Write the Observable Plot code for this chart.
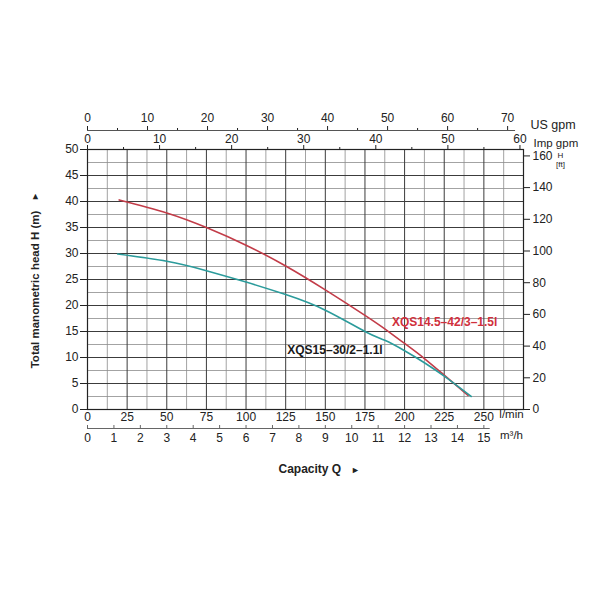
<!DOCTYPE html>
<html>
<head>
<meta charset="utf-8">
<script src="https://cdn.jsdelivr.net/npm/d3@7"></script>
<script src="https://cdn.jsdelivr.net/npm/@observablehq/plot@0.6"></script>
<style>
  body { margin: 0; background: #fff; }
  #chart svg { font-family: "Liberation Sans", Arial, sans-serif; display: block; }
</style>
</head>
<body>
<div id="chart"></div>
<script>
// ---- Data ----
const seriesNames = ["XQS14.5–42/3–1.5l", "XQS15–30/2–1.1l"];
const redQ  = [20, 50, 75, 100, 125, 150, 175, 187.5, 200, 212.5, 225, 240];
const redH  = [40.3, 37.8, 35.0, 31.6, 27.6, 23.0, 18.1, 15.5, 12.7, 9.8, 6.6, 2.7];
const tealQ = [19, 50, 75, 100, 125, 150, 175, 187.5, 200, 212.5, 225, 242];
const tealH = [29.9, 28.5, 26.7, 24.5, 22.1, 19.1, 15.0, 13.3, 11.3, 9.0, 6.4, 2.5];
const labelQ = [192, 126];
const labelH = [16.8, 11.5];

const lminTicks = [0, 25, 50, 75, 100, 125, 150, 175, 200, 225, 250];
const m3hTicks = [0, 1, 2, 3, 4, 5, 6, 7, 8, 9, 10, 11, 12, 13, 14, 15];
const usGpmTicks = [0, 10, 20, 30, 40, 50, 60, 70];
const usGpmMinor = [5, 15, 25, 35, 45, 55, 65];
const impGpmTicks = [0, 10, 20, 30, 40, 50, 60];
const impGpmMinor = [5, 15, 25, 35, 45, 55];
const headTicks = [0, 5, 10, 15, 20, 25, 30, 35, 40, 45, 50];
const ftTicks = [0, 20, 40, 60, 80, 100, 120, 140, 160];

// unit conversions to l/min and metres
const US_GAL = 3.78541, IMP_GAL = 4.54609, M3H = 1000 / 60, FT = 0.3048;

const red = redQ.map((q, i) => ({q, h: redH[i]}));
const teal = tealQ.map((q, i) => ({q, h: tealH[i]}));
const labels = seriesNames.map((name, i) => ({name, q: labelQ[i], h: labelH[i]}));

const gridQ = d3.range(0, 275.01, 12.5);
const gridH = d3.range(0, 50.01, 2.5);
const isMajorQ = q => q % 25 === 0;
const isMajorH = h => h % 5 === 0;

const ink = "#222";

const chart = Plot.plot({
  width: 600,
  height: 600,
  marginLeft: 87,
  marginRight: 77,
  marginTop: 149,
  marginBottom: 191,
  x: {domain: [0, 275], axis: null},
  y: {domain: [0, 50]},
  style: {background: "#fff", color: ink},
  marks: [
    // grid
    Plot.ruleX(gridQ.filter(q => !isMajorQ(q)), {stroke: "#8c8c8c", strokeWidth: 0.8}),
    Plot.ruleY(gridH.filter(h => !isMajorH(h)), {stroke: "#8c8c8c", strokeWidth: 0.8}),
    Plot.ruleX(gridQ.filter(isMajorQ), {stroke: "#3c3c3c", strokeWidth: 1}),
    Plot.ruleY(gridH.filter(isMajorH), {stroke: "#3c3c3c", strokeWidth: 1}),
    Plot.frame({stroke: ink, strokeWidth: 1.2}),

    // curves
    Plot.line(red, {x: "q", y: "h", stroke: "#c23c48", strokeWidth: 1.6, curve: "natural"}),
    Plot.line(teal, {x: "q", y: "h", stroke: "#2b9b9b", strokeWidth: 1.6, curve: "natural"}),
    Plot.text(labels, {x: "q", y: "h", text: "name", textAnchor: "start", fontSize: 12, fontWeight: "bold",
      fill: (d, i) => i === 0 ? "#d0303c" : "#1a1a1a"}),

    // left axis (m)
    Plot.axisY({anchor: "left", ticks: headTicks, tickSize: 7, tickPadding: 2, fontSize: 12, label: null}),
    // right axis (ft)
    Plot.axisY({anchor: "right", ticks: ftTicks.map(f => f * FT), tickFormat: d => Math.round(d / FT),
      tickSize: 6, tickPadding: 3, fontSize: 12, label: null}),
    Plot.text(["H"], {frameAnchor: "top-right", dx: 37, dy: 3, textAnchor: "middle", fontSize: 8, fill: ink}),
    Plot.text(["[ft]"], {frameAnchor: "top-right", dx: 37, dy: 12, textAnchor: "middle", fontSize: 8, fill: ink}),

    // top: Imp gpm (on frame top)
    Plot.ruleX(impGpmTicks, {x: d => d * IMP_GAL, y1: 50, y2: 50, insetTop: -4, stroke: ink}),
    Plot.ruleX(impGpmMinor, {x: d => d * IMP_GAL, y1: 50, y2: 50, insetTop: -2, stroke: ink}),
    Plot.text(impGpmTicks, {x: d => d * IMP_GAL, y: 50, dy: -10, fontSize: 12, fill: ink}),
    Plot.text(["Imp gpm"], {frameAnchor: "top-right", dx: 10, dy: -11, textAnchor: "start", fontSize: 11.5, fill: ink}),

    // top: US gpm
    Plot.ruleY([50], {x1: 0, x2: 270, dy: -19, stroke: "#555"}),
    Plot.ruleX(usGpmTicks, {x: d => d * US_GAL, y1: 50, y2: 50, insetTop: -4, dy: -19, stroke: ink}),
    Plot.ruleX(usGpmMinor, {x: d => d * US_GAL, y1: 50, y2: 50, insetTop: -2, dy: -19, stroke: ink}),
    Plot.text(usGpmTicks, {x: d => d * US_GAL, y: 50, dy: -31, fontSize: 12, fill: ink}),
    Plot.text(["US gpm"], {frameAnchor: "top-right", dx: 7, dy: -29, textAnchor: "start", fontSize: 12.5, fill: ink}),

    // bottom: l/min
    Plot.text(lminTicks, {x: d => d, y: 0, dy: 8, fontSize: 12, fill: ink}),
    Plot.text(["l/min"], {frameAnchor: "bottom-right", dx: -12, dy: 8, textAnchor: "middle", fontSize: 11.5, fill: ink}),

    // bottom: m3/h
    Plot.ruleY([0], {x1: 0, x2: 254, dy: 19, stroke: "#666"}),
    Plot.ruleX(m3hTicks, {x: d => d * M3H, y1: 0, y2: 0, insetTop: -3, dy: 19, stroke: "#666"}),
    Plot.text(m3hTicks, {x: d => d * M3H, y: 0, dy: 29, fontSize: 12, fill: ink}),
    Plot.text(["m³/h"], {frameAnchor: "bottom-right", dx: -12, dy: 29, textAnchor: "middle", fontSize: 11.5, fill: ink}),

    // axis titles
    Plot.text(["Capacity Q"], {frameAnchor: "bottom", dx: -27, dy: 63, textAnchor: "start", fontSize: 12, fontWeight: "bold", fill: ink}),
    Plot.text(["►"], {frameAnchor: "bottom", dx: 50, dy: 63, textAnchor: "middle", fontSize: 9, fill: ink}),
    Plot.text(["Total manometric head H (m)"], {frameAnchor: "left", dx: -52, dy: 10, rotate: -90, textAnchor: "middle", fontSize: 11.5, fontWeight: "bold", fill: ink}),
    Plot.text(["►"], {frameAnchor: "left", dx: -52, dy: -83, rotate: -90, textAnchor: "middle", fontSize: 9, fill: ink})
  ]
});

document.getElementById("chart").appendChild(chart);
</script>
</body>
</html>
